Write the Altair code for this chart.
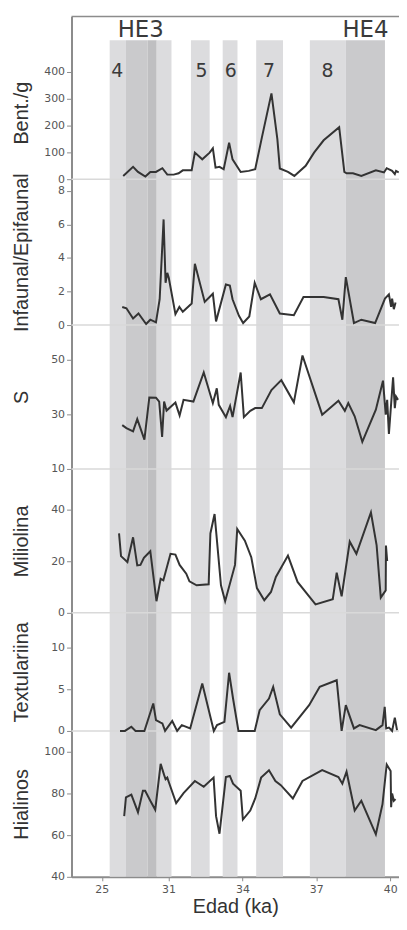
import altair as alt
import pandas as pd

# ---------------- data ----------------
bent_age = [29.16, 29.56, 29.76, 30.06, 30.26, 30.49, 30.75, 30.95, 31.21, 31.41,
            31.58, 31.94, 32.07, 32.37, 32.67, 32.80, 32.91, 33.07, 33.24, 33.46,
            33.60, 33.93, 34.26, 34.52, 34.79, 35.18, 35.42, 35.52, 35.85, 36.11,
            36.57, 36.91, 37.30, 37.93, 38.14, 38.23, 38.49, 38.83, 39.42, 39.75,
            39.86, 40.08, 40.19, 40.24, 40.35]
bent_val = [12, 46, 27, 10, 27, 27, 41, 17, 17, 22,
            33, 33, 99, 74, 99, 115, 43, 46, 37, 136,
            74, 27, 31, 37, 155, 320, 149, 40, 27, 12,
            50, 99, 145, 194, 27, 22, 22, 12, 33, 25,
            41, 31, 19, 31, 25]

ie_age = [29.12, 29.29, 29.56, 29.78, 30.09, 30.26, 30.49, 30.64, 30.80, 30.88,
          30.95, 31.01, 31.28, 31.44, 31.58, 31.94, 32.07, 32.47, 32.80, 32.93,
          33.33, 33.49, 33.60, 33.86, 34.03, 34.28, 34.50, 34.75, 35.12, 35.52,
          36.09, 36.48, 37.30, 37.90, 38.06, 38.20, 38.53, 38.83, 39.39, 39.79,
          39.95, 40.04, 40.08, 40.15, 40.22]
ie_val = [1.08, 1.0, 0.39, 0.69, 0.06, 0.32, 0.16, 1.54, 6.3, 2.52,
          3.11, 2.82, 0.65, 1.08, 0.79, 1.28, 3.65, 1.38, 1.87, 0.22,
          2.42, 2.36, 1.54, 0.55, 0.12, 0.51, 2.52, 1.54, 1.83, 0.69,
          0.59, 1.67, 1.67, 1.54, 0.32, 2.86, 0.12, 0.32, 0.12, 1.58,
          1.83, 1.08, 1.58, 0.95, 1.34]

s_age = [29.12, 29.29, 29.56, 29.73, 30.02, 30.22, 30.49, 30.62, 30.74, 30.82,
         30.92, 31.28, 31.45, 31.61, 32.01, 32.43, 32.80, 32.96, 33.04, 33.33,
         33.50, 33.60, 33.93, 34.06, 34.32, 34.52, 34.79, 35.18, 35.58, 36.09,
         36.44, 37.24, 37.90, 38.16, 38.30, 38.56, 38.87, 39.42, 39.71, 39.82,
         39.88, 39.95, 40.12, 40.19, 40.24, 40.32]
s_val = [26.0, 24.9, 23.7, 28.2, 20.7, 36.1, 36.0, 34.6, 21.7, 34.6,
         31.3, 34.2, 29.5, 35.2, 34.6, 45.2, 34.0, 39.4, 33.4, 28.9,
         33.0, 28.9, 45.2, 28.9, 31.2, 32.2, 32.2, 38.8, 42.4, 34.3,
         51.4, 29.8, 34.9, 31.2, 34.0, 29.2, 19.9, 31.6, 42.2, 29.8,
         35.2, 22.8, 43.4, 32.2, 36.4, 35.2]

mil_age = [28.99, 29.07, 29.33, 29.56, 29.73, 29.86, 30.00, 30.26, 30.51, 30.68,
           30.79, 31.08, 31.28, 31.45, 31.72, 31.85, 32.14, 32.63, 32.70, 32.87,
           33.13, 33.30, 33.70, 33.79, 34.10, 34.36, 34.59, 34.89, 35.16, 35.36,
           35.85, 36.24, 36.97, 37.67, 37.83, 38.03, 38.36, 38.63, 39.22, 39.45,
           39.62, 39.82, 39.83, 39.88]
mil_val = [30.8, 22.0, 19.7, 29.3, 18.4, 18.6, 21.3, 23.9, 4.5, 13.2,
           12.6, 22.9, 22.6, 18.6, 15.2, 12.2, 10.7, 11.1, 30.8, 38.3,
           10.7, 4.5, 18.6, 32.5, 28.0, 21.6, 9.6, 4.9, 8.1, 13.9,
           22.2, 12.0, 3.3, 5.3, 15.6, 6.4, 27.6, 22.9, 38.9, 26.3,
           5.9, 8.7, 26.1, 20.1]

tex_age = [29.03, 29.23, 29.49, 29.66, 30.02, 30.38, 30.49, 30.68, 30.75, 30.86,
           31.15, 31.35, 31.54, 31.88, 32.37, 32.84, 32.97, 33.27, 33.46, 33.62,
           33.84, 34.50, 34.70, 35.08, 35.25, 35.52, 35.98, 36.71, 37.14, 37.83,
           38.03, 38.20, 38.53, 38.76, 39.42, 39.69, 39.78, 39.84, 39.95, 40.02,
           40.08, 40.19, 40.28]
tex_val = [0, 0, 0.5, 0, 0, 3.3, 1.3, 1.0, 0.9, 0,
           1.2, 0, 0.7, 0.3, 5.7, 0, 0.7, 1.1, 7.0, 3.9,
           0, 0, 2.5, 3.9, 5.3, 2.0, 0.4, 3.1, 5.3, 6.1,
           0, 3.1, 0.3, 0.7, 0.1, 0.7, 2.9, 0.3, 0.4, 0.2,
           0, 1.6, 0.1]

hia_age = [29.20, 29.27, 29.49, 29.76, 29.96, 30.05, 30.26, 30.46, 30.68, 30.82,
           30.88, 30.95, 31.01, 31.31, 31.61, 32.07, 32.43, 32.83, 32.93, 33.07,
           33.33, 33.49, 33.62, 33.93, 34.02, 34.32, 34.52, 34.76, 35.08, 35.34,
           35.56, 36.05, 36.44, 37.24, 37.90, 38.06, 38.23, 38.56, 38.83, 39.42,
           39.69, 39.86, 40.02, 40.04, 40.08, 40.15, 40.22]
hia_val = [69.1, 78.1, 79.4, 71.0, 81.3, 81.3, 76.5, 72.2, 94.2, 88.9,
           86.8, 87.6, 85.5, 75.4, 80.2, 86.0, 83.2, 87.6, 69.1, 60.7,
           87.9, 88.4, 84.7, 81.3, 67.5, 71.8, 77.6, 87.6, 91.1, 86.0,
           84.0, 77.6, 86.0, 91.2, 87.9, 84.7, 90.4, 71.8, 76.5, 60.4,
           74.9, 93.9, 90.8, 73.4, 80.0, 76.5, 77.3]

# shaded intervals
band_start = [28.61, 29.27, 30.15, 30.52, 31.91, 33.20, 34.56, 36.74, 38.20]
band_end = [29.27, 30.15, 30.52, 31.12, 32.67, 33.80, 35.65, 38.20, 39.79]
band_tone = ["claro", "medio", "oscuro", "claro", "claro", "claro", "claro", "claro", "medio"]
tone_names = ["claro", "medio", "oscuro"]
tone_colors = ["#dcdcde", "#cacacc", "#bfbfc1"]

zone_labels = ["4", "5", "6", "7", "8"]
zone_x = [28.92, 32.34, 33.53, 35.08, 37.46]
event_labels = ["HE3", "HE4"]
event_x = [29.87, 39.0]

tick_values = [28.29, 31, 34, 37, 40]
tick_labels = ["25", "31", "34", "37", "40"]

# panel titles, domains and tick values
titles = ["Bent./g", "Infaunal/Epifaunal", "S", "Miliolina", "Textulariina", "Hialinos"]
domains = [[0, 607], [0, 8.7], [10, 62.5], [0, 55.8], [0, 14.2], [40, 110]]
yticks = [[0, 100, 200, 300, 400], [0, 2, 4, 6, 8], [10, 30, 50], [0, 20, 40], [0, 5, 10],
          [40, 60, 80, 100]]
series_age = [bent_age, ie_age, s_age, mil_age, tex_age, hia_age]
series_val = [bent_val, ie_val, s_val, mil_val, tex_val, hia_val]

# layout (pixels)
W = 330
panel_h = [164, 147, 145, 145, 119, 147]
H = sum(panel_h)
X_DOMAIN = [27.06, 40.36]

FONT_T = "Liberation Sans"
FONT_L = "DejaVu Sans"
AX = "#8c8c8c"

x_scale = alt.Scale(domain=X_DOMAIN, nice=False, zero=False)
label_expr = " : ".join(
    f"datum.value == {v} ? '{l}'" for v, l in zip(tick_values, tick_labels)
) + " : ''"
x_axis = alt.Axis(values=tick_values, labelExpr=label_expr, title="Edad (ka)",
                  domainColor=AX, domainWidth=2, tickColor=AX, tickSize=4,
                  labelFont=FONT_L, labelFontSize=11, labelColor="#555",
                  labelPadding=3, titleFont=FONT_T, titleFontSize=20,
                  titleFontWeight="normal", titleColor="#333", titlePadding=2,
                  grid=False)

bands_df = pd.DataFrame({"inicio": band_start, "fin": band_end, "tono": band_tone})
bands = alt.Chart(bands_df).mark_rect().encode(
    x=alt.X("inicio:Q", scale=x_scale, axis=x_axis),
    x2="fin:Q",
    y=alt.value(24),
    y2=alt.value(H),
    color=alt.Color("tono:N", scale=alt.Scale(domain=tone_names, range=tone_colors), legend=None),
)

layers = [bands]
top = 0
for i in range(6):
    h = panel_h[i]
    bottom = top + h
    yscale = alt.Scale(domain=domains[i], range=[bottom, top], nice=False, zero=False)
    y_axis = alt.Axis(values=yticks[i], orient="left", title=titles[i],
                      titleFont=FONT_T, titleFontSize=20, titleFontWeight="normal",
                      titleColor="#333", titleAngle=270, titleX=-50,
                      titleY=(top + 97) if i == 0 else (top + h / 2),
                      titleAlign="center", titleBaseline="middle",
                      labelFont=FONT_L, labelFontSize=11, labelColor="#555",
                      labelPadding=2, tickColor=AX, tickSize=5,
                      domainColor=AX, domainWidth=2, grid=False)
    df = pd.DataFrame({"edad": series_age[i], "valor": series_val[i]})
    line = alt.Chart(df).mark_line(color="#333333", strokeWidth=2).encode(
        x=alt.X("edad:Q", scale=x_scale, axis=x_axis),
        y=alt.Y("valor:Q", scale=yscale, axis=y_axis),
    )
    parts = [line]
    if i < 5:
        sep = alt.Chart(pd.DataFrame({"valor": [domains[i][0]]})).mark_rule(
            color="#d9d9d9", strokeWidth=1.5).encode(
            y=alt.Y("valor:Q", scale=yscale, axis=y_axis))
        parts = [sep, line]
    layers.append(alt.layer(*parts))
    top = bottom

top_rule = alt.Chart(pd.DataFrame({"a": [0]})).mark_rule(color=AX, strokeWidth=1.5).encode(
    y=alt.value(0))
zones = alt.Chart(pd.DataFrame({"edad": zone_x, "texto": zone_labels})).mark_text(
    font=FONT_L, fontSize=19, color="#3a3a3a").encode(
    x=alt.X("edad:Q", scale=x_scale, axis=x_axis), y=alt.value(55), text="texto:N")
events = alt.Chart(pd.DataFrame({"edad": event_x, "texto": event_labels})).mark_text(
    font=FONT_L, fontSize=23, color="#3a3a3a").encode(
    x=alt.X("edad:Q", scale=x_scale, axis=x_axis), y=alt.value(14), text="texto:N")
layers += [top_rule, zones, events]

chart = alt.layer(*layers).resolve_scale(y="independent").properties(
    width=W, height=H,
    autosize=alt.AutoSizeParams(type="none"),
    padding={"left": 64, "top": 5, "right": 0, "bottom": 38},
    background="white",
).configure_view(stroke=None)

chart.save("out.html", embed_options={"renderer": "svg", "actions": False})
